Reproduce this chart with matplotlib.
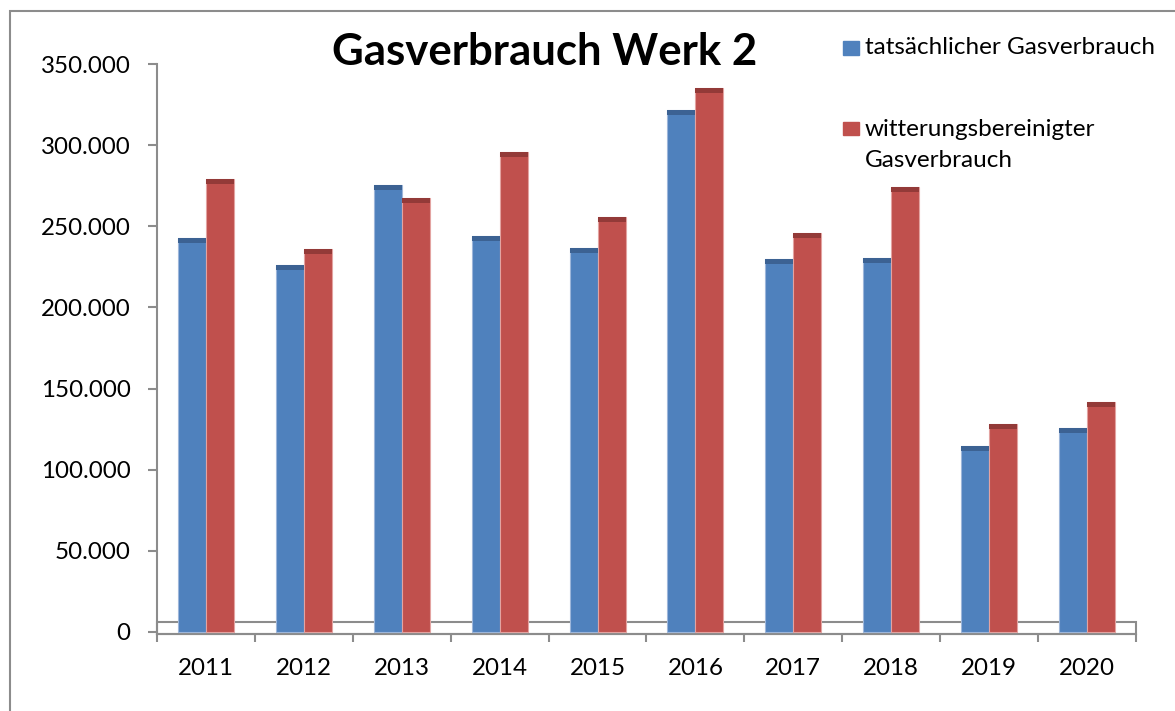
import matplotlib
matplotlib.use("Agg")
import matplotlib.pyplot as plt
from matplotlib.patches import Rectangle
import numpy as np

plt.rcParams['font.family'] = ['Lato', 'DejaVu Sans']

# ---- data ----
years = ["2011", "2012", "2013", "2014", "2015", "2016", "2017", "2018", "2019", "2020"]
actual = [243000, 226000, 275500, 244100, 236500, 322000, 229700, 230300, 114400, 125700]
weather_adj = [279200, 235900, 267500, 295700, 256000, 335600, 245900, 274100, 128300, 141700]
yticks = [0, 50000, 100000, 150000, 200000, 250000, 300000, 350000]
ytick_labels = ["0", "50.000", "100.000", "150.000", "200.000", "250.000", "300.000", "350.000"]
title = "Gasverbrauch Werk 2"
series_names = ["tatsächlicher Gasverbrauch", "witterungsbereinigter\nGasverbrauch"]

# ---- style ----
W, H = 1175, 711
BLUE, BLUE_CAP, BLUE_EDGE = "#4F81BD", "#3C6293", "#9DB6DA"
RED, RED_CAP, RED_EDGE = "#C0504D", "#933A38", "#E3A3A1"
GRID = "#8C8C8C"
CAP = 3000
BW = 0.286

def fx(px):
    return px / W

def fy(py):
    return 1 - py / H

fig = plt.figure(figsize=(W / 100, H / 100), dpi=100)
ax = fig.add_axes([fx(157), fy(634), fx(1136) - fx(157), fy(64.3) - fy(634)])
ymin = -1420
ax.set_ylim(ymin, 350000)
ax.set_xlim(-0.5, len(years) - 0.5)

x = np.arange(len(years))
a = np.array(actual)
r = np.array(weather_adj)
ax.bar(x - BW / 2, a, BW, color=BLUE, edgecolor=BLUE_EDGE, linewidth=0.8, zorder=3)
ax.bar(x - BW / 2, np.full_like(a, CAP), BW, bottom=a - CAP, color=BLUE_CAP, linewidth=0, zorder=4)
ax.bar(x + BW / 2, r, BW, color=RED, edgecolor=RED_EDGE, linewidth=0.8, zorder=3)
ax.bar(x + BW / 2, np.full_like(r, CAP), BW, bottom=r - CAP, color=RED_CAP, linewidth=0, zorder=4)

# floor
ax.add_patch(Rectangle((-0.5, ymin), len(years), 6170 - ymin, facecolor="none",
                       edgecolor=GRID, linewidth=1.5, zorder=1, clip_on=False))

for s in ["top", "right"]:
    ax.spines[s].set_visible(False)
for s in ["left", "bottom"]:
    ax.spines[s].set_color(GRID)
    ax.spines[s].set_linewidth(1.5)

ax.set_yticks(yticks)
ax.set_yticklabels(ytick_labels, fontsize=17.4)
ax.tick_params(axis="y", length=6.5, width=1.5, color=GRID, pad=12.5)

ax.set_xticks(x)
ax.set_xticklabels(years, fontsize=17.4)
ax.tick_params(axis="x", which="major", length=0, pad=17)
ax.set_xticks(np.arange(len(years) + 1) - 0.5, minor=True)
ax.tick_params(axis="x", which="minor", length=5.5, width=1.5, color=GRID)

# title
fig.text(fx(545), fy(52), title, fontsize=31.5, fontweight="bold", ha="center", va="center")

# legend (manual)
fig.patches.append(Rectangle((fx(843), fy(54.7)), fx(16), 14 / H, color=BLUE, transform=fig.transFigure))
fig.text(fx(865), fy(47), series_names[0], fontsize=17.5, ha="left", va="center")
fig.patches.append(Rectangle((fx(843), fy(135)), fx(16), 13 / H, color=RED, transform=fig.transFigure))
fig.text(fx(865), fy(145), series_names[1], fontsize=17.5, ha="left", va="center", linespacing=1.6)

# outer border
fig.patches.append(Rectangle((fx(10), -0.1), 1.2, fy(11) + 0.1, facecolor="none",
                             edgecolor=GRID, linewidth=1.5, transform=fig.transFigure))

fig.savefig("out.png", dpi=100)
